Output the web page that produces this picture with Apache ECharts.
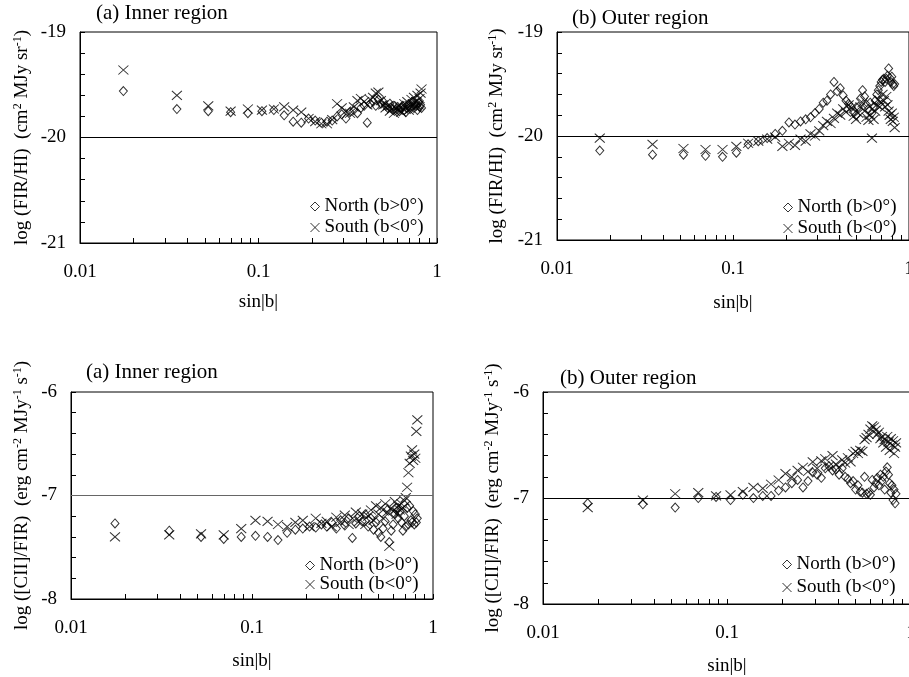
<!DOCTYPE html>
<html>
<head>
<meta charset="utf-8">
<script src="https://cdn.jsdelivr.net/npm/echarts@6/dist/echarts.min.js"></script>
<style>
  html, body { margin: 0; padding: 0; background: #fff; }
  #chart { width: 909px; height: 677px; }
</style>
</head>
<body>
<div id="chart"></div>
<script>
// sin|b| for b = 1..56 deg (1 deg bins)
const SIN_B = [0.0175, 0.0349, 0.0523, 0.0698, 0.0872, 0.1045, 0.1219, 0.1392, 0.1564, 0.1736,
  0.1908, 0.2079, 0.2250, 0.2419, 0.2588, 0.2756, 0.2924, 0.3090, 0.3256, 0.3420,
  0.3584, 0.3746, 0.3907, 0.4067, 0.4226, 0.4384, 0.4540, 0.4695, 0.4848, 0.5000,
  0.5150, 0.5299, 0.5446, 0.5592, 0.5736, 0.5878, 0.6018, 0.6157, 0.6293, 0.6428,
  0.6561, 0.6691, 0.6820, 0.6947, 0.7071, 0.7193, 0.7314, 0.7431, 0.7547, 0.7660,
  0.7771, 0.7880, 0.7986, 0.8090, 0.8192, 0.8290];

const X_TICKS = ['0.01', '0.1', '1'];
const SERIES_NAMES = ['North (b>0°)', 'South (b<0°)'];

// (a) inner, log(FIR/HI)
const IN_FIR_N = [-19.56, -19.73, -19.75, -19.76, -19.77, -19.75, -19.74, -19.79, -19.85, -19.86,
  -19.82, -19.84, -19.86, -19.85, -19.84, -19.80, -19.78, -19.82, -19.76, -19.74,
  -19.77, -19.72, -19.70, -19.86, -19.68, -19.66, -19.70, -19.64, -19.68, -19.66,
  -19.70, -19.72, -19.68, -19.73, -19.70, -19.74, -19.71, -19.75, -19.72, -19.70,
  -19.74, -19.76, -19.72, -19.69, -19.73, -19.70, -19.66, -19.72, -19.68, -19.70,
  -19.74, -19.67, -19.71, -19.69, -19.72];
const IN_FIR_S = [-19.36, -19.60, -19.70, -19.75, -19.73, -19.74, -19.73, -19.71, -19.74, -19.76,
  -19.82, -19.85, -19.87, -19.87, -19.83, -19.68, -19.72, -19.75, -19.77, -19.71,
  -19.65, -19.63, -19.66, -19.69, -19.64, -19.62, -19.58, -19.57, -19.65, -19.69,
  -19.72, -19.70, -19.75, -19.73, -19.77, -19.72, -19.74, -19.70, -19.76, -19.73,
  -19.68, -19.71, -19.66, -19.74, -19.70, -19.64, -19.68, -19.62, -19.71, -19.66,
  -19.60, -19.69, -19.63, -19.58, -19.54];

// (b) outer, log(FIR/HI)
const OUT_FIR_N = [-20.14, -20.18, -20.18, -20.19, -20.20, -20.16, -20.08, -20.05, -20.02, -19.98,
  -19.95, -19.87, -19.89, -19.86, -19.84, -19.82, -19.78, -19.74, -19.68, -19.66,
  -19.60, -19.48, -19.57, -19.54, -19.61, -19.66, -19.69, -19.72, -19.76, -19.80,
  -19.72, -19.64, -19.56, -19.62, -19.70, -19.74, -19.68, -19.78, -19.72, -19.66,
  -19.60, -19.56, -19.52, -19.48, -19.46, -19.45, -19.48, -19.45, -19.42, -19.35,
  -19.44, -19.48, -19.43, -19.50, -19.52, -19.50];
const OUT_FIR_S = [-20.02, -20.08, -20.12, -20.13, -20.13, -20.10, -20.07, -20.05, -20.03, -20.01,
  -20.10, -20.07, -20.09, -20.03, -20.05, -19.98, -20.00, -19.95, -19.90, -19.86,
  -19.88, -19.83, -19.78, -19.80, -19.74, -19.77, -19.70, -19.73, -19.81, -19.84,
  -19.78, -19.72, -19.68, -19.76, -19.82, -19.85, -19.80, -20.02, -19.84, -19.76,
  -19.70, -19.65, -19.72, -19.68, -19.60, -19.66, -19.72, -19.62, -19.70, -19.76,
  -19.80, -19.84, -19.78, -19.86, -19.82, -19.92];

// (a) inner, log([CII]/FIR)
const IN_CII_N = [-7.27, -7.34, -7.40, -7.42, -7.40, -7.39, -7.40, -7.43, -7.36, -7.33,
  -7.32, -7.30, -7.31, -7.28, -7.30, -7.26, -7.32, -7.24, -7.29, -7.22,
  -7.41, -7.27, -7.20, -7.25, -7.18, -7.30, -7.22, -7.33, -7.26, -7.36,
  -7.40, -7.32, -7.25, -7.14, -7.45, -7.34, -7.28, -7.18, -7.12, -7.22,
  -7.15, -7.26, -7.34, -7.20, -7.30, -7.12, -7.28, -7.10, -7.24, -7.26,
  -7.15, -7.28, -7.18, -7.26, -7.22];
const IN_CII_S = [-7.40, -7.38, -7.37, -7.38, -7.32, -7.24, -7.25, -7.28, -7.30, -7.26,
  -7.24, -7.30, -7.22, -7.27, -7.25, -7.30, -7.21, -7.26, -7.19, -7.28,
  -7.22, -7.16, -7.25, -7.18, -7.28, -7.20, -7.14, -7.24, -7.10, -7.18,
  -7.12, -7.22, -7.08, -7.16, -7.49, -7.12, -7.15, -7.06, -7.18, -7.10,
  -7.14, -7.08, -7.12, -7.05, -7.02, -6.92, -6.78, -6.69, -6.62, -6.56,
  -6.66, -6.60, -6.64, -6.38, -6.27];

// (b) outer, log([CII]/FIR)
const OUT_CII_N = [-7.05, -7.06, -7.09, -7.00, -6.99, -7.02, -6.97, -7.00, -6.98, -6.98,
  -6.93, -6.90, -6.86, -6.83, -6.90, -6.84, -6.76, -6.78, -6.81, -6.72,
  -6.70, -6.74, -6.73, -6.78, -6.72, -6.80, -6.82, -6.86, -6.84, -6.92,
  -6.88, -6.94, -6.95, -6.80, -6.96, -6.95, -6.97, -6.83, -6.90, -6.86,
  -6.81, -6.88, -6.78, -6.84, -6.80, -6.92, -6.75, -6.71, -6.78, -6.86,
  -6.95, -6.88, -7.02, -6.92, -7.05, -6.96];
const OUT_CII_S = [-7.09, -7.02, -6.96, -6.95, -6.98, -6.97, -6.94, -6.90, -6.91, -6.87,
  -6.83, -6.77, -6.80, -6.74, -6.71, -6.75, -6.66, -6.72, -6.65, -6.63,
  -6.70, -6.60, -6.68, -6.71, -6.64, -6.67, -6.62, -6.66, -6.58, -6.56,
  -6.58, -6.55, -6.56, -6.45, -6.43, -6.40, -6.35, -6.32, -6.33, -6.36,
  -6.40, -6.38, -6.44, -6.42, -6.48, -6.45, -6.52, -6.42, -6.47, -6.55,
  -6.44, -6.50, -6.46, -6.58, -6.52, -6.48];

const FONT = 'Liberation Serif';
const RICH = {
  t: { fontSize: 19, fontFamily: FONT, color: '#000', lineHeight: 20 },
  s: { fontSize: 12, fontFamily: FONT, color: '#000', lineHeight: 12, verticalAlign: 'top' }
};
const NAME_FIR = '{t|log (FIR/HI)  (cm}{s|2}{t| MJy sr}{s|-1}{t|)}';
const NAME_CII = '{t|log ([CII]/FIR)  (erg cm}{s|-2}{t| MJy}{s|-1}{t| s}{s|-1}{t|)}';

const panels = [
  { grid: { left: 80, top: 32, width: 357, height: 211 }, y: [-21, -19, -20], yName: NAME_FIR,
    yGap: 48, xGap: 50, north: IN_FIR_N, south: IN_FIR_S, refColor: '#000',
    legend: { left: 310, top: 197, itemGap: 2 }, title: { text: '(a) Inner region', left: 96, top: 3 } },
  { grid: { left: 557, top: 32, width: 352, height: 208 }, y: [-21, -19, -20], yName: NAME_FIR,
    yGap: 50, xGap: 54, north: OUT_FIR_N, south: OUT_FIR_S, refColor: '#000',
    legend: { left: 783, top: 198, itemGap: 2 }, title: { text: '(b) Outer region', left: 572, top: 8 } },
  { grid: { left: 71, top: 392, width: 362, height: 207 }, y: [-8, -6, -7], yName: NAME_CII,
    yGap: 39, xGap: 53, north: IN_CII_N, south: IN_CII_S, refColor: '#666',
    legend: { left: 305, top: 556, itemGap: 0 }, title: { text: '(a) Inner region', left: 86, top: 362 } },
  { grid: { left: 543, top: 392, width: 368, height: 212 }, y: [-8, -6, -7], yName: NAME_CII,
    yGap: 40, xGap: 53, north: OUT_CII_N, south: OUT_CII_S, refColor: '#000',
    legend: { left: 782, top: 555, itemGap: 4 }, title: { text: '(b) Outer region', left: 560, top: 368 } }
];

const CROSS = 'path://M0,0L10,10M10,0L0,10';
const tickStyle = { color: '#000', width: 1 };

const option = {
  animation: false,
  textStyle: { fontFamily: FONT, color: '#000' },
  title: panels.map(p => ({
    text: p.title.text, left: p.title.left, top: p.title.top, padding: 0,
    textStyle: { fontFamily: FONT, fontSize: 21, fontWeight: 'normal', color: '#000' }
  })),
  legend: panels.map(p => ({
    data: SERIES_NAMES, orient: 'vertical', left: p.legend.left, top: p.legend.top,
    itemGap: p.legend.itemGap, itemWidth: 9, itemHeight: 9, padding: 0,
    itemStyle: { color: 'rgba(255,255,255,0)', borderColor: '#000', borderWidth: 1 },
    textStyle: { fontFamily: FONT, fontSize: 19, color: '#000', lineHeight: 19 },
    selectedMode: false
  })),
  grid: panels.map(p => Object.assign({
    show: true, borderColor: '#000', borderWidth: 1, containLabel: false, outerBoundsMode: 'none'
  }, p.grid)),
  xAxis: panels.map((p, i) => ({
    gridIndex: i, type: 'log', logBase: 10, min: 0.01, max: 1,
    name: 'sin|b|', nameLocation: 'middle', nameGap: p.xGap,
    nameTextStyle: { fontFamily: FONT, fontSize: 19, color: '#000' },
    axisLine: { lineStyle: tickStyle },
    axisTick: { inside: true, length: 5, lineStyle: tickStyle },
    minorTick: { show: true, splitNumber: 9, length: 5, lineStyle: tickStyle },
    splitLine: { show: false },
    axisLabel: {
      fontFamily: FONT, fontSize: 19, color: '#000', margin: 20,
      showMaxLabel: true, hideOverlap: false,
      formatter: v => X_TICKS[Math.round(Math.log10(v)) + 2]
    }
  })),
  yAxis: panels.map((p, i) => ({
    gridIndex: i, type: 'value', min: p.y[0], max: p.y[1], interval: 1,
    name: p.yName, nameLocation: 'middle', nameGap: p.yGap, nameRotate: 90,
    nameTextStyle: { rich: RICH },
    axisLine: { show: true, lineStyle: tickStyle },
    axisTick: { inside: true, length: 5, lineStyle: tickStyle },
    minorTick: { show: true, splitNumber: 5, length: 5, lineStyle: tickStyle },
    splitLine: { show: false },
    axisLabel: { fontFamily: FONT, fontSize: 19, color: '#000', margin: 14 }
  })),
  series: panels.flatMap((p, i) => [
    {
      name: SERIES_NAMES[0], type: 'scatter', xAxisIndex: i, yAxisIndex: i,
      symbol: 'diamond', symbolSize: [8, 9],
      itemStyle: { color: 'rgba(255,255,255,0)', borderColor: '#000', borderWidth: 1 },
      data: p.north.map((v, k) => [SIN_B[k], v]),
      markLine: {
        silent: true, symbol: 'none', label: { show: false },
        lineStyle: { color: p.refColor, width: 1.2, type: 'solid' },
        data: [{ yAxis: p.y[2] }]
      }
    },
    {
      name: SERIES_NAMES[1], type: 'scatter', xAxisIndex: i, yAxisIndex: i,
      symbol: CROSS, symbolSize: [10, 9],
      itemStyle: { color: 'rgba(255,255,255,0)', borderColor: '#000', borderWidth: 1 },
      data: p.south.map((v, k) => [SIN_B[k], v])
    }
  ])
};

const chart = echarts.init(document.getElementById('chart'), null, { renderer: 'canvas' });
chart.setOption(option);
</script>
</body>
</html>
